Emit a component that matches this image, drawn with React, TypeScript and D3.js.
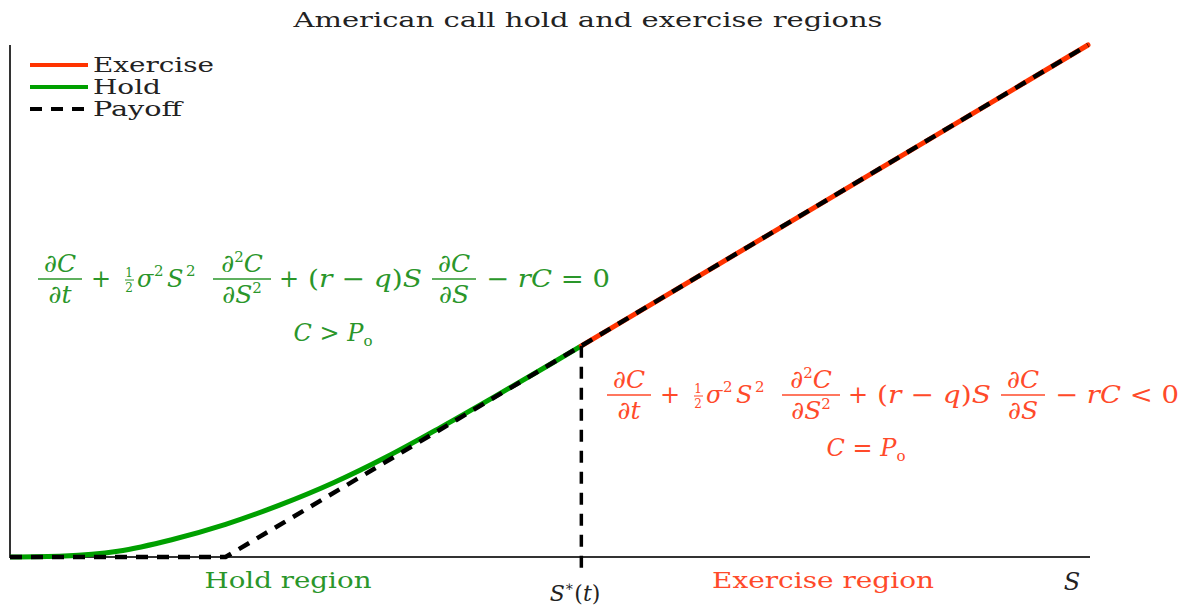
import React from "react";
import * as d3 from "d3";

// ---- data ----
const strike = 20;
const sStar = 53;
const sMax = 100;
const holdS = [0, 5, 10, 15, 20, 25, 30, 35, 40, 45, 50, 53];
const holdV = [0, 0.15, 0.9, 2.7, 5.1, 8.1, 11.6, 15.7, 20.3, 25.1, 30.0, 33.0];
const payoffS = [0, 20, 100];
const payoffV = [0, 0, 80];
const exerciseS = [53, 100];
const exerciseV = [33, 80];
const legendLabels = ["Exercise", "Hold", "Payoff"];

const W = 1187;
const H = 608;
const GREEN_LINE = "#00a000";
const RED_LINE = "#ff3300";
const GREEN_TEXT = "#2a962a";
const RED_TEXT = "#ff4a2a";
const SERIF = "'DejaVu Serif', 'Liberation Serif', serif";

const x = d3.scaleLinear().domain([0, sMax]).range([10, 1088]);
const y = d3.scaleLinear().domain([0, 80]).range([557, 45]);

type P = [number, number];
const line = d3
  .line<P>()
  .x((d) => x(d[0]))
  .y((d) => y(d[1]));
const smooth = d3
  .line<P>()
  .x((d) => x(d[0]))
  .y((d) => y(d[1]))
  .curve(d3.curveMonotoneX);

const holdPts: P[] = holdS.map((s, i) => [s, holdV[i]]);
const payPts: P[] = payoffS.map((s, i) => [s, payoffV[i]]);
const exPts: P[] = exerciseS.map((s, i) => [s, exerciseV[i]]);

const FS = 24;
const FF = 25;

function Frac({ cx, yb, num, den, w, color }: any) {
  return (
    <g>
      <text x={cx} y={yb - 7} textAnchor="middle" fontSize={FF} fill={color} fontFamily={SERIF}>
        {num}
      </text>
      <line x1={cx - w / 2} x2={cx + w / 2} y1={yb} y2={yb} stroke={color} strokeWidth={1.6} />
      <text x={cx} y={yb + 24} textAnchor="middle" fontSize={FF} fill={color} fontFamily={SERIF}>
        {den}
      </text>
    </g>
  );
}

const it = { fontStyle: "italic" } as any;

function Equation({ x0, yb, color, rel }: { x0: number; yb: number; color: string; rel: string }) {
  const base = yb + 8;
  return (
    <g fill={color} fontFamily={SERIF}>
      <Frac
        cx={x0 + 22}
        yb={yb}
        w={44}
        color={color}
        num={<><tspan>∂</tspan><tspan style={it}>C</tspan></>}
        den={<><tspan>∂</tspan><tspan style={it}>t</tspan></>}
      />
      <text x={x0 + 63} y={base} textAnchor="middle" fontSize={FS}>+</text>
      <text x={x0 + 91} y={yb - 2} textAnchor="middle" fontSize={12}>1</text>
      <line x1={x0 + 87} x2={x0 + 96} y1={yb + 1} y2={yb + 1} stroke={color} strokeWidth={1} />
      <text x={x0 + 91} y={yb + 13} textAnchor="middle" fontSize={12}>2</text>
      <text x={x0 + 99} y={base} fontSize={FS} style={it}>σ</text>
      <text x={x0 + 116} y={base - 11} fontSize={15}>2</text>
      <text x={x0 + 129} y={base} fontSize={FS} style={it}>S</text>
      <text x={x0 + 148} y={base - 11} fontSize={15}>2</text>
      <Frac
        cx={x0 + 204}
        yb={yb}
        w={58}
        color={color}
        num={<><tspan>∂</tspan><tspan fontSize={15} dy={-10}>2</tspan><tspan style={it} dy={10}>C</tspan></>}
        den={<><tspan>∂</tspan><tspan style={it}>S</tspan><tspan fontSize={15} dy={-10}>2</tspan></>}
      />
      <text x={x0 + 251} y={base} textAnchor="middle" fontSize={FS}>+</text>
      <text x={x0 + 270} y={base} fontSize={FS} textLength={114} lengthAdjust="spacingAndGlyphs">
        <tspan>(</tspan>
        <tspan style={it}>r</tspan>
        <tspan> − </tspan>
        <tspan style={it}>q</tspan>
        <tspan>)</tspan>
        <tspan style={it}>S</tspan>
      </text>
      <Frac
        cx={x0 + 416}
        yb={yb}
        w={44}
        color={color}
        num={<><tspan>∂</tspan><tspan style={it}>C</tspan></>}
        den={<><tspan>∂</tspan><tspan style={it}>S</tspan></>}
      />
      <text x={x0 + 448} y={base} fontSize={FS} textLength={124} lengthAdjust="spacingAndGlyphs">
        <tspan>− </tspan>
        <tspan style={it}>rC</tspan>
        <tspan>{` ${rel} 0`}</tspan>
      </text>
    </g>
  );
}

function CP({ cx, yb, color, rel }: any) {
  return (
    <text x={cx} y={yb} textAnchor="middle" fontSize={FS} fill={color} fontFamily={SERIF}>
      <tspan style={it}>C</tspan>
      <tspan>{` ${rel} `}</tspan>
      <tspan style={it}>P</tspan>
      <tspan fontSize={15} dy={5}>o</tspan>
    </text>
  );
}

export default function App() {
  const legendColors = [RED_LINE, GREEN_LINE, "#000"];
  return (
    <svg
      width={W}
      height={H}
      style={{ position: "absolute", left: 0, top: 0, background: "#fff" }}
    >
      <rect width={W} height={H} fill="#fff" />
      {/* title */}
      <text
        x={588}
        y={27}
        textAnchor="middle"
        fontSize={20}
        fontFamily={SERIF}
        fill="#222"
        textLength={589}
        lengthAdjust="spacingAndGlyphs"
      >
        American call hold and exercise regions
      </text>

      {/* axes */}
      <line x1={x(0)} x2={x(0)} y1={y(0) + 1} y2={45} stroke="#333" strokeWidth={2} />
      <line x1={x(0) - 1} x2={1090} y1={y(0)} y2={y(0)} stroke="#333" strokeWidth={2} />

      {/* curves */}
      <path d={smooth(holdPts) || ""} fill="none" stroke={GREEN_LINE} strokeWidth={5} />
      <path d={line(exPts) || ""} fill="none" stroke={RED_LINE} strokeWidth={5} strokeLinecap="round" />
      <path
        d={line(payPts) || ""}
        fill="none"
        stroke="#000"
        strokeWidth={4.5}
        strokeDasharray="12 9"
      />
      <line
        x1={x(sStar)}
        x2={x(sStar)}
        y1={y(sStar - strike)}
        y2={y(0) + 18}
        stroke="#000"
        strokeWidth={3.5}
        strokeDasharray="12 9"
      />

      {/* legend */}
      {legendLabels.map((lab, i) => (
        <g key={lab}>
          <line
            x1={30}
            x2={88}
            y1={65 + i * 22}
            y2={65 + i * 22}
            stroke={legendColors[i]}
            strokeWidth={4}
            strokeDasharray={i === 2 ? "12 9" : undefined}
          />
          <text
            x={93}
            y={72 + i * 22}
            fontSize={21}
            fontFamily={SERIF}
            fill="#222"
            textLength={[121, 68, 89][i]}
            lengthAdjust="spacingAndGlyphs"
          >
            {lab}
          </text>
        </g>
      ))}

      {/* equations */}
      <Equation x0={38} yb={279} color={GREEN_TEXT} rel="=" />
      <CP cx={333} yb={341} color={GREEN_TEXT} rel=">" />
      <Equation x0={607} yb={395} color={RED_TEXT} rel="<" />
      <CP cx={866} yb={456} color={RED_TEXT} rel="=" />

      {/* axis labels */}
      <text x={288} y={588} textAnchor="middle" fontSize={22} fontFamily={SERIF} fill={GREEN_TEXT} textLength={167} lengthAdjust="spacingAndGlyphs">
        Hold region
      </text>
      <text x={823} y={588} textAnchor="middle" fontSize={22} fontFamily={SERIF} fill={RED_TEXT} textLength={222} lengthAdjust="spacingAndGlyphs">
        Exercise region
      </text>
      <text x={1072} y={590} textAnchor="middle" fontSize={24} fontFamily={SERIF} fill="#222" style={it}>
        S
      </text>
      <text x={575} y={601} textAnchor="middle" fontSize={22} fontFamily={SERIF} fill="#222">
        <tspan style={it}>S</tspan>
        <tspan fontSize={14} dy={-10}>∗</tspan>
        <tspan dy={10}>(</tspan>
        <tspan style={it}>t</tspan>
        <tspan>)</tspan>
      </text>
    </svg>
  );
}
